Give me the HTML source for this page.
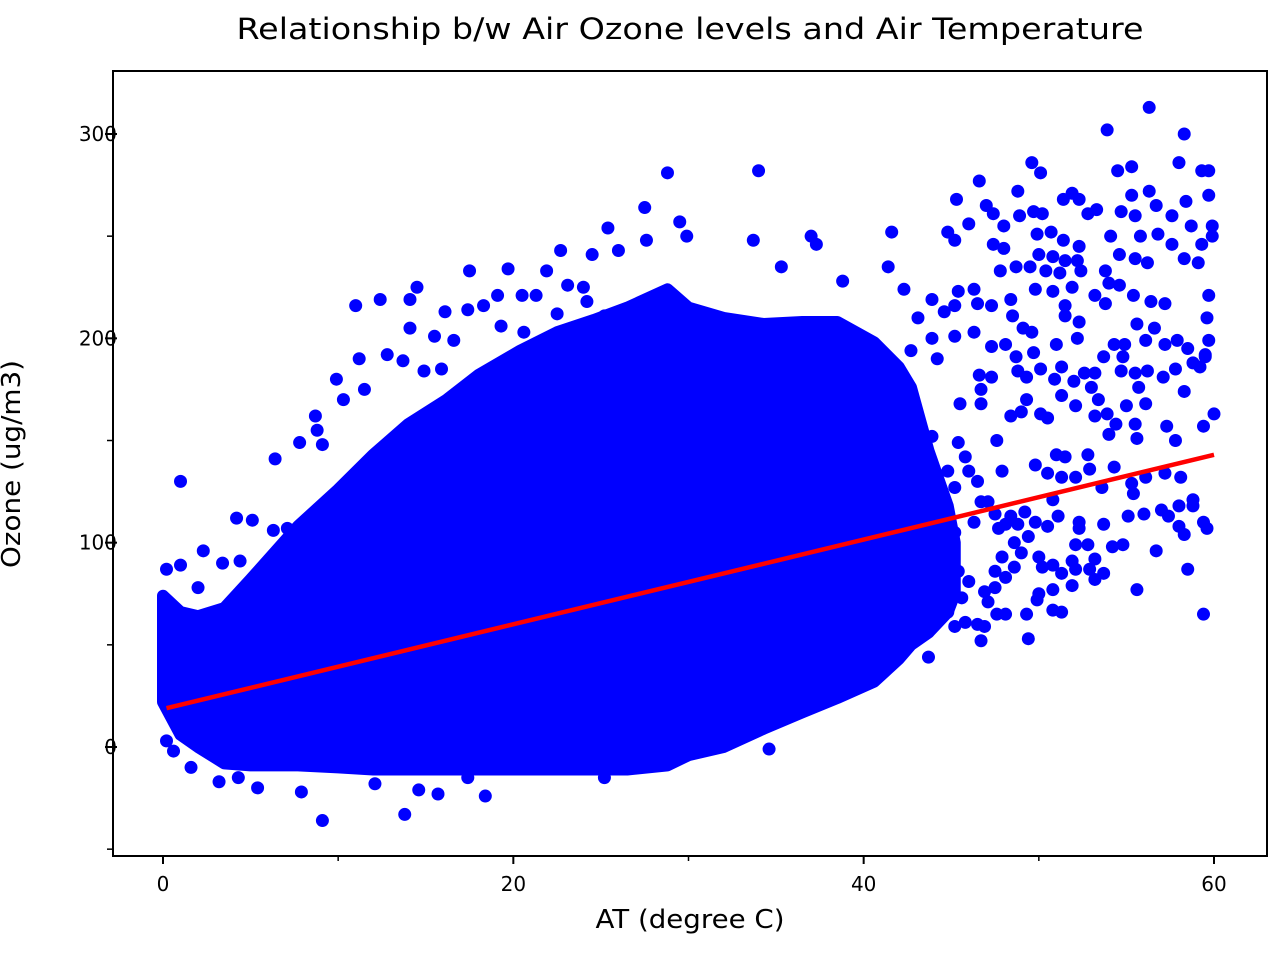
<!DOCTYPE html>
<html><head><meta charset="utf-8">
<style>
html,body{margin:0;padding:0;background:#fff;}
svg{display:block;font-family:"DejaVu Sans","Liberation Sans",sans-serif;}
</style></head>
<body>
<svg id="chart" width="1280" height="960">
<text x="690" y="39" font-size="29" text-anchor="middle" textLength="907" lengthAdjust="spacingAndGlyphs">Relationship b/w Air Ozone levels and Air Temperature</text>
<text x="690" y="928" font-size="26" text-anchor="middle" textLength="189" lengthAdjust="spacingAndGlyphs">AT (degree C)</text>
<text x="20" y="464" font-size="26" text-anchor="middle" textLength="208" lengthAdjust="spacingAndGlyphs" transform="rotate(-90 20 464)">Ozone (ug/m3)</text>
<g id="plot"></g>
<rect x="113" y="71" width="1154" height="785" fill="none" stroke="#000" stroke-width="2"/>
<g id="axes"></g>
</svg>
<script>
const coreX=[0,1,2,3.5,5,7.7,10,12,14,16.2,18,20.4,22.5,24.6,26.5,28.8,30,32,34.3,36.5,38.5,40.6,42,42.7,43.7,44.8,45.2];
const coreUpper=[74,66,64,68,82,108,126,143,158,170,182,194,203,209,215,224,215,210,207,208,208,198,186,176,145,118,100];
const coreLower=[22,6,0,-8,-9,-9,-10,-11,-11,-11,-11,-11,-11,-11,-11,-9,-4,0,9,17,24,32,43,50,56,66,75];
const ptX=[56.3,53.9,58.3,49.6,50.1,54.5,55.3,58,59.3,59.7,48.8,51.4,51.9,52.3,55.3,56.3,56.7,58.4,59.7,45.3,46.6,47,47.4,46,44.8,45.2,48,48.9,49.7,50.2,52.8,53.3,54.7,55.5,54.1,55.8,56.8,57.6,58.7,59.9,59.9,57.6,59.3,47.4,48,49.9,50.7,51.4,52.3,50,50.8,51.5,52.2,54.6,55.5,56.2,58.3,59.1,47.8,48.7,49.5,50.4,51.2,52.4,53.8,41.6,41.4,42.3,45.4,46.3,49.8,50.8,51.9,54,54.6,55.4,53.2,53.8,56.4,57.2,59.7,59.6,59.7,59.5,43.9,45.2,46.5,47.3,48.4,48.5,51.5,51.5,52.3,52.2,49.6,51,49.1,44.6,43.1,43.9,42.7,44.2,45.2,46.3,47.3,48.1,48.7,49.7,53.7,54.3,54.9,56.1,57.2,57.9,58.5,59.5,54.8,54.7,55.5,56.2,57.1,57.8,58.8,59.2,58.3,55.7,56.1,55,53.4,53,52.6,53.2,52,51.3,50.9,50.1,51.3,49.3,48.8,46.6,47.3,46.7,45.5,46.7,49.3,48.4,49,50.1,50.5,52.1,53.2,54,54.4,55.5,55.6,57.3,57.8,59.4,60,47.6,51,51.5,52.8,52.9,49.8,50.5,51.3,53.6,54.3,55.3,55.4,56.1,57.2,58.1,58.8,58.8,58,57,57.4,58,58.3,59.4,59.6,56,55.1,53.7,50.8,51.1,52.3,52.3,50.5,49.8,49.2,48.4,47.1,48.1,47.7,52.1,52.8,54.2,54.8,56.7,58.5,53.2,52.9,53.2,53.7,51.9,52.1,50.8,51.3,51.9,50.8,50,49.9,50.8,51.3,49.4,55.6,59.4,49.3,48.1,47.6,46.9,46.7,49,50,48.6,50.2,47.5,48.1,47.1,45.8,45.2,46.5,45.6,46,45.4,46.9,47.5,47.9,48.6,49.4,48.8,47.5,46.3,45.2,44.8,44.4,43.7,43.5,43.9,43.7,44.8,46.7,46,46.5,45.2,44.8,45.8,45.4,43.9,47.9,52.1,53.9,56.6,55.6,
34.6,34,37,37.3,33.7,38.8,35.3,
28.8,27.5,25.4,22.7,21.9,19.7,17.5,14.5,14.1,12.4,11,14.1,24.5,26,27.6,29.5,29.9,23.1,24,20.5,21.3,19.1,16.1,17.4,18.3,15.5,16.6,19.3,20.6,22.5,24.2,25.2,9.9,11.2,12.8,13.7,14.9,15.9,10.3,11.5,8.7,8.8,9.1,7.8,6.4,1,4.2,5.1,6.3,7.1,2.3,3.4,1,0.2,2,4.4,5.8,9.1,13.8,18.4,15.7,14.6,7.9,5.4,3.2,25.2,28.8,12.1,17.4,0.2,0.6,1.6,4.3];
const ptY=[313,302,300,286,281,282,284,286,282,282,272,268,271,268,270,272,265,267,270,268,277,265,261,256,252,248,255,260,262,261,261,263,262,260,250,250,251,260,255,255,250,246,246,246,244,251,252,248,245,241,240,238,238,241,239,237,239,237,233,235,235,233,232,233,233,252,235,224,223,224,224,223,225,227,226,221,221,217,218,217,221,210,199,192,219,216,217,216,219,211,216,211,208,200,203,197,205,213,210,200,194,190,201,203,196,197,191,193,191,197,197,199,197,199,195,191,191,184,183,184,181,185,188,186,174,176,168,167,170,176,183,183,179,172,180,185,186,181,184,182,181,175,168,168,170,162,164,163,161,167,162,153,158,158,151,157,150,157,163,150,143,142,143,136,138,134,132,127,137,129,124,132,134,132,121,118,118,116,113,108,104,110,107,114,113,109,121,113,110,107,108,110,115,113,120,109,107,99,99,98,99,96,87,92,87,82,85,91,87,89,85,79,77,75,72,67,66,53,77,65,65,65,65,59,52,95,93,88,88,78,83,71,61,59,60,73,81,86,76,86,93,100,103,109,114,110,105,96,88,81,69,59,44,66,120,135,130,127,135,142,149,152,135,132,163,205,207,
-1,282,250,246,248,228,235,
281,264,254,243,233,234,233,225,219,219,216,205,241,243,248,257,250,226,225,221,221,221,213,214,216,201,199,206,203,212,218,211,180,190,192,189,184,185,170,175,162,155,148,149,141,130,112,111,106,107,96,90,89,87,78,91,85,-36,-33,-24,-23,-21,-22,-20,-17,-15,-7,-18,-15,3,-2,-10,-15];
const regX=[0.2,60];
const regY=[19,143];
const xTicks=[0,20,40,60], xMinor=[10,30,50];
const yTicks=[0,100,200,300], yMinor=[-50,50,150,250];

const NS="http://www.w3.org/2000/svg";
function sx(v){return 163+v*(1214-163)/60;}
function sy(v){return 747-v*(747-134)/300;}
const plot=document.getElementById('plot'), axes=document.getElementById('axes');
function mk(tag,attrs,parent){const e=document.createElementNS(NS,tag);for(const k in attrs)e.setAttribute(k,attrs[k]);parent.appendChild(e);return e;}

let d="M"+coreX.map((x,i)=>sx(x)+","+sy(coreUpper[i])).join(" L");
for(let i=coreX.length-1;i>=0;i--) d+=" L"+sx(coreX[i])+","+sy(coreLower[i]);
d+="Z";
const core=mk('path',{d:d,fill:'#0000ff',stroke:'#0000ff','stroke-width':12,'stroke-linejoin':'round'},plot);



for(let i=0;i<ptX.length;i++){
  const c=mk('circle',{cx:sx(ptX[i]),cy:sy(ptY[i]),r:6.5,fill:'#0000ff'},plot);
  
  
}
const ln=mk('line',{x1:sx(regX[0]),y1:sy(regY[0]),x2:sx(regX[1]),y2:sy(regY[1]),stroke:'#ff0000','stroke-width':4.5},plot);



xTicks.forEach(v=>{
  const t=mk('line',{x1:sx(v),x2:sx(v),y1:856,y2:864,stroke:'#000','stroke-width':2},axes);
  
  
  const l=mk('text',{x:sx(v),y:891,'font-size':20,'text-anchor':'middle'},axes);
  l.textContent=v;
  
  
});
xMinor.forEach(v=>{
  const t=mk('line',{x1:sx(v),x2:sx(v),y1:856,y2:861,stroke:'#000','stroke-width':1.5},axes);
  
  
});
yTicks.forEach(v=>{
  const t=mk('line',{x1:105,x2:117,y1:sy(v),y2:sy(v),stroke:'#000','stroke-width':2},axes);
  
  
  const l=mk('text',{x:117,y:sy(v)+7,'font-size':20,'text-anchor':'end'},axes);
  l.textContent=v;
  
  
});
yMinor.forEach(v=>{
  const t=mk('line',{x1:107,x2:113,y1:sy(v),y2:sy(v),stroke:'#000','stroke-width':1.5},axes);
  
  
});
</script>
</body></html>
